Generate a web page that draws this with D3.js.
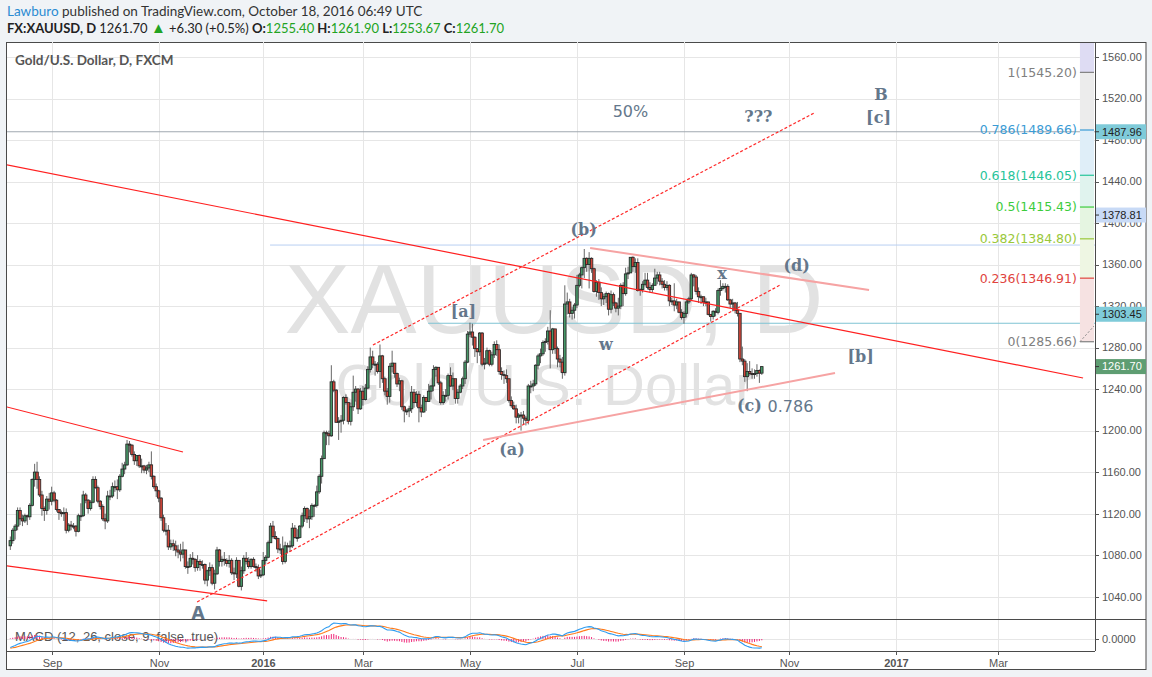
<!DOCTYPE html>
<html><head><meta charset="utf-8">
<script src="https://cdn.jsdelivr.net/npm/d3@7"></script>
<style>
body{margin:0;background:#f0f3f6;}
svg{display:block;}
</style></head><body>
<svg id="chart" width="1152" height="677"></svg>
<script>
// ---------------- DATA ----------------
const symbol = "FX:XAUUSD, D";
const publisher = "Lawburo";
const publishedText = " published on TradingView.com, October 18, 2016 06:49 UTC";
const paneTitle = "Gold/U.S. Dollar, D, FXCM";
const watermark1 = "XAUUSD, D";
const watermark2 = "Gold/U.S. Dollar";
const macdTitle = "MACD (12, 26, close, 9, false, true)";

const startDate = "2015-08-07";
const holidays = ["2015-12-25", "2016-01-01"];
const firstOpen = 1089;

// daily closes Aug 7 2015 .. Oct 17 2016
const closes = [
 // Aug 2015
 1094,1104,1108,1123,1115,1113,1118,1117,1128,1153,1160,1153,1138,1125,1123,1134,1132,
 // Sep
 1140,1133,1124,1121,1120,1121,1104,1109,1108,1108,1103,1118,1118,1138,1133,1125,1131,1153,1145,1132,1127,1115,
 // Oct
 1113,1137,1137,1146,1146,1143,1156,1163,1167,1187,1186,1177,1171,1176,1166,1166,1162,1164,1167,1156,1146,1142,
 // Nov
 1135,1116,1104,1104,1088,1091,1089,1085,1083,1081,1085,1069,1069,1077,1076,1068,1074,1071,1071,1056,1065,
 // Dec
 1068,1053,1062,1085,1074,1076,1075,1072,1075,1063,1062,1075,1050,1065,1077,1074,1069,1076,1069,1068,1060,1061,
 // Jan 2016
 1075,1078,1092,1108,1098,1096,1086,1086,1074,1089,1088,1089,1106,1097,1097,1108,1118,1125,1115,1117,
 // Feb
 1128,1128,1141,1156,1173,1198,1197,1195,1247,1239,1208,1209,1210,1232,1227,1209,1223,1237,1240,1221,1238,
 // Mar
 1230,1241,1259,1271,1264,1264,1257,1272,1250,1238,1233,1262,1265,1255,1245,1248,1223,1219,1219,1221,1237,1227,1235,
 // Apr
 1222,1218,1232,1228,1238,1243,1259,1261,1246,1227,1234,1234,1253,1243,1250,1231,1237,1243,1250,1266,1293,
 // May
 1295,1290,1279,1276,1294,1264,1265,1277,1264,1273,1283,1278,1257,1254,1253,1250,1229,1224,1221,1213,1215,1215,
 // Jun
 1212,1210,1243,1243,1245,1263,1272,1274,1285,1286,1296,1278,1298,1279,1269,1266,1256,1322,1324,1313,1316,1321,
 // Jul
 1340,1350,1357,1366,1360,1366,1356,1334,1343,1333,1327,1329,1332,1317,1331,1323,1318,1320,1340,1332,1351,
 // Aug
 1352,1367,1358,1362,1335,1336,1341,1345,1338,1336,1340,1347,1350,1344,1341,1338,1340,1325,1325,1321,1324,1314,1309,
 // Sep
 1313,1324,1327,1350,1348,1334,1329,1329,1324,1324,1312,1310,1315,1314,1335,1337,1339,1339,1326,1322,1323,1316,
 // Oct
 1313,1269,1267,1252,1257,1255,1254,1255,1258,1255.4,1261.7
];
const highs = [
 1098,1106,1110,1126,1126,1119,1120,1119,1130,1154,1168,1170,1156,1142,1127,1137,1140,
 1146,1142,1134,1124,1123,1126,1125,1111,1113,1111,1109,1120,1130,1142,1140,1134,1133,1156,1156,1147,1133,1129,
 1120,1142,1143,1150,1152,1153,1158,1169,1170,1191,1190,1187,1180,1176,1177,1173,1167,1167,1170,1180,1157,1149,
 1143,1136,1119,1111,1109,1095,1095,1094,1090,1091,1093,1085,1074,1081,1083,1077,1080,1076,1075,1072,1066,
 1073,1071,1066,1088,1086,1079,1083,1077,1080,1077,1068,1078,1073,1069,1080,1083,1078,1077,1078,1072,1071,1066,
 1083,1080,1094,1111,1113,1103,1097,1091,1098,1093,1092,1094,1111,1109,1105,1109,1121,1127,1126,1124,
 1130,1129,1147,1158,1176,1200,1200,1200,1263,1249,1240,1213,1215,1233,1235,1226,1227,1253,1243,1241,1241,
 1243,1245,1262,1280,1277,1267,1266,1283,1273,1252,1241,1265,1277,1265,1256,1251,1249,1224,1221,1224,1243,1240,1238,
 1238,1225,1234,1232,1245,1244,1263,1262,1261,1248,1238,1240,1255,1261,1256,1250,1240,1245,1252,1268,1296,
 1304,1303,1291,1278,1295,1295,1270,1280,1278,1276,1286,1287,1283,1261,1258,1259,1250,1233,1228,1225,1217,1218,
 1219,1214,1245,1248,1249,1264,1274,1279,1287,1289,1300,1316,1299,1298,1281,1273,1271,1340,1333,1327,1319,1323,
 1350,1352,1358,1375,1367,1372,1367,1357,1345,1346,1338,1332,1334,1333,1335,1333,1324,1328,1342,1343,1357,
 1358,1367,1368,1366,1366,1337,1344,1352,1352,1343,1342,1356,1353,1353,1347,1345,1344,1341,1328,1342,1327,1324,1317,
 1315,1327,1329,1352,1351,1350,1338,1331,1329,1328,1324,1312,1316,1318,1337,1345,1342,1342,1341,1327,1327,1324,
 1324,1313,1281,1269,1265,1267,1260,1259,1264,1259,1261.9
];
const lows = [
 1085,1091,1095,1104,1109,1108,1111,1109,1114,1127,1146,1144,1136,1118,1113,1119,1124,
 1128,1131,1122,1114,1117,1113,1101,1102,1104,1105,1098,1102,1113,1117,1130,1120,1123,1130,1144,1130,1124,1113,
 1105,1111,1133,1135,1141,1134,1141,1155,1158,1166,1179,1175,1167,1166,1164,1159,1159,1158,1160,1153,1144,1136,
 1131,1113,1102,1099,1085,1085,1084,1079,1077,1074,1077,1067,1062,1068,1071,1064,1065,1065,1067,1052,1050,
 1060,1051,1047,1061,1069,1069,1070,1069,1068,1061,1056,1058,1049,1046,1062,1071,1067,1067,1068,1064,1057,1058,
 1060,1071,1077,1092,1096,1095,1082,1081,1071,1072,1082,1083,1087,1096,1093,1096,1106,1112,1111,1106,
 1114,1117,1126,1139,1149,1173,1186,1186,1194,1237,1208,1191,1198,1206,1225,1206,1205,1219,1228,1216,1220,
 1224,1229,1240,1256,1260,1253,1255,1241,1246,1234,1225,1227,1256,1251,1242,1238,1220,1208,1215,1213,1217,1222,1223,
 1208,1213,1217,1219,1228,1230,1238,1252,1244,1225,1225,1228,1230,1242,1239,1226,1226,1236,1240,1245,1265,
 1290,1282,1271,1265,1272,1262,1259,1264,1262,1262,1270,1272,1254,1249,1245,1246,1227,1222,1220,1207,1207,1200,
 1206,1205,1206,1236,1238,1243,1259,1265,1272,1276,1283,1260,1274,1274,1261,1261,1250,1253,1312,1309,1307,1308,
 1318,1338,1337,1347,1353,1337,1352,1333,1329,1326,1320,1321,1323,1311,1313,1320,1314,1311,1317,1320,1330,
 1346,1352,1353,1352,1334,1330,1333,1339,1336,1333,1333,1340,1341,1340,1337,1335,1335,1320,1321,1315,1317,1313,1307,
 1303,1309,1322,1325,1339,1331,1323,1322,1320,1320,1311,1305,1307,1310,1312,1330,1335,1333,1325,1318,1315,1313,
 1310,1266,1263,1247,1238,1253,1250,1250,1252,1246,1253.67
];
// closes before the visible range (Jun 15 - Aug 6 2015), only used to warm up the MACD
const priorCloses = [1185,1181,1177,1202,1201,1185,1176,1175,1172,1173,1179,1171,
 1168,1166,1167,1173,1155,1159,1162,1157,1154,1155,1148,1145,1132,1106,1103,1091,1092,1085,1096,1095,1095,1089,1094,
 1086,1085,1085,1089];

const priceTicks = [1040,1080,1120,1160,1200,1240,1280,1320,1360,1400,1440,1480,1520,1560];
const monthTicks = ["2015-09","2015-11","2016-01","2016-03","2016-05","2016-07","2016-09","2016-11","2017-01","2017-03"];
const monthLabels = ["Sep","Nov","2016","Mar","May","Jul","Sep","Nov","2017","Mar"];
const monthBold = [false,false,true,false,false,false,false,false,true,false];

const fibRatios = ["1","0.786","0.618","0.5","0.382","0.236","0"];
const fibPrices = [1545.20,1489.66,1446.05,1415.43,1384.80,1346.91,1285.66];
const fibColors = ["#808080","#3a9bd5","#26c49a","#3ccc3c","#99c83a","#e0443e","#808080"];
const fibFills  = ["#dedcf3","#ececec","#dfeef8","#e0f3ee","#e5f5e1","#eef6e3","#f6e2e2"];

// horizontal lines: price, starting bar index, colour, badge colour, badge label shift
const hLinePrices = [1487.96, 1378.81, 1303.45];
const hLineStart  = [-1.4, 106.8, 171.8];
const hLineColor  = ["#a0a8b0", "#b8cff2", "#7fc3d3"];
const badgeColor  = ["#7fcbd9", "#c8daf6", "#7fcbd9"];
const badgeShift  = [0, -30, -9];

// trend lines: [barIndex1, price1, barIndex2, price2]
const solidLines = [[-1.4,1456.0,441.1,1250.7],[-1.4,1222.8,71.0,1179.4],[-1.4,1069.6,105.6,1035.9]];
const dashedLines = [[76.8,1034.9,316.5,1340.3],[149.1,1282.5,330.5,1506.0]];
const pinkLines = [[238.4,1376.0,353.1,1335.5],[194.4,1191.0,339.1,1255.5]];

// wave labels: text, bar index, price, style
const waveLabels = [
 ["A",77.2,1024.3,"sans"],["[a]",186.3,1315,"serif"],["(a)",206.3,1181.8,"serif"],
 ["(b)",235.7,1393.8,"serif"],["w",244.9,1283.5,"serif"],["x",292.6,1351.9,"serif"],
 ["(d)",323.3,1359,"serif"],["[b]",349.6,1271.4,"serif"],["(c)",303.9,1224.2,"serif"],
 ["0.786",320.8,1223.7,"plain"],["50%",255.0,1507.5,"plain"],["???",307.6,1502.7,"serif"],
 ["B",358.0,1524.4,"serif"],["[c]",357.0,1501.7,"serif"]
];

// ---------------- LAYOUT ----------------
const L = 7, R = 1095, T = 42, MB = 619, MT = 619, MBot = 651, FB = 669, FR = 1146;
const svg = d3.select("#chart");
const fmtD = d3.utcFormat("%Y-%m-%d"), parseD = d3.utcParse("%Y-%m-%d");

// trading-day calendar (weekdays minus holidays)
const dates = [];
{ let d = parseD(startDate);
  while (dates.length < 470) {
    const w = d.getUTCDay();
    if (w !== 0 && w !== 6 && !holidays.includes(fmtD(d))) dates.push(d);
    d = d3.utcDay.offset(d, 1);
  } }

const x = d3.scaleLinear().domain([-1.36, 446.0]).range([L, R]);
const y = d3.scaleLinear().domain([1018.5, 1574.45]).range([MB, T]);

const bars = closes.map((c, i) => {
  const o = i ? closes[i-1] : firstOpen;
  return {i, o, c, h: Math.max(highs[i], o, c), l: Math.min(lows[i], o, c)};
});

// MACD
function ema(arr, n) { const k = 2/(n+1); let out = []; let p = arr[0];
  arr.forEach((v,i) => { p = i ? v*k + p*(1-k) : v; out.push(p); }); return out; }
const allC = priorCloses.concat(closes);
const e12 = ema(allC, 12), e26 = ema(allC, 26);
const macdAll = e12.map((v,i) => v - e26[i]);
const sigAll = ema(macdAll, 9);
const off = priorCloses.length;
const macd = macdAll.slice(off), signal = sigAll.slice(off);
const hist = macd.map((v,i) => v - signal[i]);
const macdMax = d3.max(macd);
const ym = d3.scaleLinear().domain([0, macdMax]).range([639, 623]);

// ---------------- DRAW ----------------
const hdrFont = "Lato, 'Open Sans', sans-serif";
const hdr = svg.append("text").attr("x", 7).attr("y", 16)
  .style("font-family", hdrFont).style("font-size", "13.5px");
hdr.append("tspan").attr("fill", "#2a8bd2").text(publisher);
hdr.append("tspan").attr("fill", "#333").text(publishedText);

const last = bars[bars.length-1];
const chg = last.c - last.o;
const h2 = svg.append("text").attr("x", 7).attr("y", 33)
  .style("font-family", hdrFont).style("font-size", "13px").attr("fill", "#222");
h2.append("tspan").attr("font-weight", "bold").text(symbol + " ");
h2.append("tspan").text(d3.format(".2f")(last.c) + " ");
h2.append("tspan").attr("fill", "#22a322").style("font-size", "15px").text("▲");
h2.append("tspan").text(" +" + d3.format(".2f")(chg) + " (+" + d3.format(".1f")(chg/last.o*100) + "%) ");
const green = "#22a322";
[["O:", last.o], ["H:", last.h], ["L:", last.l], ["C:", last.c]].forEach(([k,v], idx) => {
  h2.append("tspan").attr("font-weight", "bold").text((idx ? " " : "") + k);
  h2.append("tspan").attr("fill", green).text(d3.format(".2f")(v));
});

// frame
svg.append("rect").attr("x", 6.5).attr("y", T+0.5).attr("width", FR-6.5).attr("height", FB-T)
  .attr("fill", "#fff").attr("stroke", "#4a4a4a");

const defs = svg.append("defs");
defs.append("clipPath").attr("id", "mainClip").append("rect").attr("x", L).attr("y", T+1).attr("width", R-L).attr("height", MB-T-1);
defs.append("clipPath").attr("id", "macdClip").append("rect").attr("x", L).attr("y", MT+1).attr("width", R-L).attr("height", MBot-MT-1);

// grid
const monthIdx = monthTicks.map(m => dates.findIndex(d => fmtD(d).slice(0,7) === m));
const grid = svg.append("g").attr("stroke", "#e6e6e6").attr("shape-rendering", "crispEdges");
priceTicks.forEach(p => grid.append("line").attr("x1", L).attr("x2", R).attr("y1", Math.round(y(p))+0.5).attr("y2", Math.round(y(p))+0.5));
monthIdx.forEach(j => grid.append("line").attr("x1", Math.round(x(j))+0.5).attr("x2", Math.round(x(j))+0.5).attr("y1", T).attr("y2", MBot));
grid.append("line").attr("x1", L).attr("x2", R).attr("y1", 639.5).attr("y2", 639.5);

// watermark
svg.append("text").attr("x", 554).attr("y", 333).attr("text-anchor", "middle")
  .style("font-family", "'Liberation Sans', Arial, sans-serif").style("font-size", "99px").attr("fill", "#e2e2e2").text(watermark1);
svg.append("text").attr("x", 545).attr("y", 405).attr("text-anchor", "middle")
  .style("font-family", "'Liberation Sans', Arial, sans-serif").style("font-size", "58px").attr("fill", "#e2e2e2").text(watermark2);

// title
svg.append("text").attr("x", 15).attr("y", 65).style("font-family", hdrFont)
  .style("font-size", "13.5px").style("font-weight", "bold").attr("fill", "#555").text(paneTitle);

const main = svg.append("g").attr("clip-path", "url(#mainClip)");

// horizontal lines
hLinePrices.forEach((p, k) => {
  main.append("line").attr("x1", x(hLineStart[k])).attr("x2", R).attr("y1", y(p)).attr("y2", y(p))
    .attr("stroke", hLineColor[k]).attr("stroke-width", 1);
});

// fib strip
const stripX0 = x(439.8), stripX1 = x(445.6);
const fibBounds = [1574.45].concat(fibPrices);
fibPrices.forEach((p, k) => {
  main.append("rect").attr("x", stripX0).attr("width", stripX1 - stripX0)
    .attr("y", y(fibBounds[k])).attr("height", y(fibBounds[k+1]) - y(fibBounds[k]))
    .attr("fill", fibFills[k]);
});
fibPrices.forEach((p, k) => {
  main.append("line").attr("x1", stripX0).attr("x2", stripX1).attr("y1", y(p)).attr("y2", y(p))
    .attr("stroke", fibColors[k]).attr("stroke-width", 1.2);
  main.append("text").attr("x", stripX0 - 3).attr("y", y(p)).attr("dy", "0.35em").attr("text-anchor", "end")
    .style("font-family", "'DejaVu Sans', sans-serif").style("font-size", "12.5px").attr("fill", fibColors[k])
    .text(fibRatios[k] + "(" + d3.format(".2f")(p) + ")");
});
main.append("line").attr("x1", stripX0).attr("y1", y(1285.66)).attr("x2", stripX1).attr("y2", y(1300.8))
  .attr("stroke", "#888").attr("stroke-dasharray", "2,2");

// candles
const cg = main.append("g");
bars.forEach(b => {
  const cx = x(b.i);
  cg.append("line").attr("x1", cx).attr("x2", cx).attr("y1", y(b.h)).attr("y2", y(b.l))
    .attr("stroke", "#555").attr("stroke-width", 0.9);
});
bars.forEach(b => {
  const cx = x(b.i);
  const top = y(Math.max(b.o, b.c)), bot = y(Math.min(b.o, b.c));
  cg.append("rect").attr("x", cx - 1.25).attr("width", 2.5).attr("y", top).attr("height", Math.max(1, bot - top))
    .attr("fill", b.c >= b.o ? "#479868" : "#d2463a").attr("stroke", "#262626").attr("stroke-width", 0.85);
});

// trend lines
const seg = (g, d) => g.append("line").attr("x1", x(d[0])).attr("y1", y(d[1])).attr("x2", x(d[2])).attr("y2", y(d[3]));
solidLines.forEach(d => seg(main, d).attr("stroke", "#ff2020").attr("stroke-width", 1.2));
dashedLines.forEach(d => seg(main, d).attr("stroke", "#ff2a2a").attr("stroke-width", 1.2).attr("stroke-dasharray", "3,2"));
pinkLines.forEach(d => seg(main, d).attr("stroke", "#f6a3a3").attr("stroke-width", 2));

// wave labels
const lblColor = "#64778b";
waveLabels.forEach(([t, j, p, s]) => {
  const el = main.append("text").attr("x", x(j)).attr("y", y(p)).attr("dy", "0.35em").attr("text-anchor", "middle")
    .attr("fill", lblColor).text(t);
  if (s === "serif") el.style("font-family", "'DejaVu Serif', serif").style("font-weight", "bold").style("font-size", "16px");
  else if (s === "sans") el.style("font-family", "'DejaVu Sans', sans-serif").style("font-weight", "bold").style("font-size", "17px");
  else el.style("font-family", "'DejaVu Sans', sans-serif").style("font-size", "16px");
});

// MACD pane
const mg = svg.append("g").attr("clip-path", "url(#macdClip)");
mg.append("text").attr("x", 15).attr("y", 641).style("font-family", "'Liberation Sans', Arial, sans-serif")
  .style("font-size", "13px").attr("fill", "#555").text(macdTitle);
hist.forEach((h, i) => {
  mg.append("line").attr("x1", x(i)).attr("x2", x(i)).attr("y1", ym(0)).attr("y2", ym(h) === ym(0) ? ym(0)+0.8 : ym(h))
    .attr("stroke", "#f0287a").attr("stroke-width", 1);
});
const lineGen = d3.line().x((d, i) => x(i)).y(d => ym(d));
mg.append("path").attr("d", lineGen(signal)).attr("fill", "none").attr("stroke", "#ff7a1a").attr("stroke-width", 1.1);
mg.append("path").attr("d", lineGen(macd)).attr("fill", "none").attr("stroke", "#2f9cf0").attr("stroke-width", 1.1);

// pane borders
const border = svg.append("g").attr("stroke", "#4a4a4a").attr("shape-rendering", "crispEdges");
border.append("line").attr("x1", R+0.5).attr("x2", R+0.5).attr("y1", T).attr("y2", MBot);
border.append("line").attr("x1", 6).attr("x2", FR).attr("y1", MT+0.5).attr("y2", MT+0.5);
border.append("line").attr("x1", 6).attr("x2", R).attr("y1", MBot+0.5).attr("y2", MBot+0.5);

// price axis
const axFont = "'Liberation Sans', Arial, sans-serif";
priceTicks.forEach(p => {
  svg.append("line").attr("x1", R).attr("x2", R+4).attr("y1", Math.round(y(p))+0.5).attr("y2", Math.round(y(p))+0.5).attr("stroke", "#555");
  svg.append("text").attr("x", R+7).attr("y", y(p)).attr("dy", "0.35em").style("font-family", axFont).style("font-size", "11px")
    .attr("fill", "#555").text(d3.format(".2f")(p));
});
svg.append("line").attr("x1", R).attr("x2", R+4).attr("y1", 639.5).attr("y2", 639.5).attr("stroke", "#555");
svg.append("text").attr("x", R+7).attr("y", 639).attr("dy", "0.35em").style("font-family", axFont).style("font-size", "11px")
  .attr("fill", "#555").text("0.0000");

// badges
function badge(v, cy, bg, fg) {
  svg.append("rect").attr("x", R+1).attr("y", cy - 7.5).attr("width", FR - R - 1).attr("height", 15).attr("fill", bg);
  svg.append("line").attr("x1", R).attr("x2", R+4).attr("y1", cy).attr("y2", cy).attr("stroke", "#333");
  svg.append("text").attr("x", R+7).attr("y", cy).attr("dy", "0.35em").style("font-family", axFont).style("font-size", "11px")
    .attr("fill", fg).text(d3.format(".2f")(v));
}
hLinePrices.forEach((p, k) => badge(p, y(p) + badgeShift[k], badgeColor[k], "#222"));
badge(last.c, y(last.c), "#5e9d72", "#fff");

// time axis
monthIdx.forEach((j, k) => {
  const px = Math.round(x(j)) + 0.5;
  svg.append("line").attr("x1", px).attr("x2", px).attr("y1", MBot).attr("y2", MBot+4).attr("stroke", "#555");
  svg.append("text").attr("x", px).attr("y", 663).attr("dy", "0.35em").attr("text-anchor", "middle")
    .style("font-family", axFont).style("font-size", "11px").style("font-weight", monthBold[k] ? "bold" : "normal")
    .attr("fill", "#555").text(monthLabels[k]);
});
</script>
</body></html>
